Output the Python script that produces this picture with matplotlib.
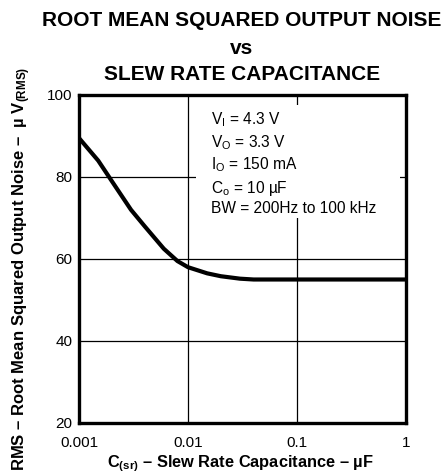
import numpy as np
import matplotlib
matplotlib.use("Agg")
import matplotlib.pyplot as plt
import matplotlib.ticker as ticker

plt.rcParams["font.family"] = ["Liberation Sans", "DejaVu Sans"]
plt.rcParams["mathtext.fontset"] = "custom"
plt.rcParams["mathtext.rm"] = "Liberation Sans"
plt.rcParams["mathtext.it"] = "Liberation Sans"
plt.rcParams["mathtext.bf"] = "Liberation Sans:bold"
plt.rcParams["mathtext.default"] = "regular"

# --- Data ---
c_sr = [0.001, 0.0015, 0.002, 0.003, 0.004, 0.006, 0.008, 0.01, 0.015,
        0.02, 0.03, 0.04, 0.05, 0.1, 0.5, 1.0]
noise = [89.5, 84.0, 79.0, 72.0, 68.0, 62.5, 59.5, 58.0, 56.5,
         55.8, 55.2, 55.0, 55.0, 55.0, 55.0, 55.0]

x_ticks = [0.001, 0.01, 0.1, 1]
x_ticklabels = ["0.001", "0.01", "0.1", "1"]
y_ticks = [20, 40, 60, 80, 100]

conditions = ["$V_I$ = 4.3 V", "$V_O$ = 3.3 V", "$I_O$ = 150 mA",
              "$C_o$ = 10 \u00b5F", "BW = 200Hz to 100 kHz"]

fig = plt.figure(figsize=(4.44, 4.74), dpi=100)
ax = fig.add_axes([79 / 444, 1 - 423 / 474, 327 / 444, 328 / 474])

ax.set_xscale("log")
ax.set_xlim(0.001, 1)
ax.set_ylim(20, 100)

ax.grid(True, which="major", color="black", linewidth=0.9)
ax.set_axisbelow(True)

# white box behind conditions text blanks the grid
box = plt.Rectangle((196 / 444, 1 - 218 / 474), (400 - 196) / 444, (218 - 105) / 474,
                    transform=fig.transFigure, facecolor="white", edgecolor="none", zorder=1)
fig.patches.append(box)
ax.set_zorder(0)
ax.patch.set_visible(False)
fig.patches.append(plt.Rectangle((79 / 444, 1 - 423 / 474), 327 / 444, 328 / 474,
                                 transform=fig.transFigure, facecolor="white",
                                 edgecolor="none", zorder=-1))

ax.plot(c_sr, noise, color="black", linewidth=3.0, solid_capstyle="butt", zorder=3)

ax.set_xticks(x_ticks)
ax.set_xticklabels(x_ticklabels)
ax.xaxis.set_minor_locator(ticker.NullLocator())
ax.set_yticks(y_ticks)
ax.tick_params(length=0, labelsize=11)
ax.tick_params(axis="x", pad=9.5)
ax.tick_params(axis="y", pad=4.5)
for s in ax.spines.values():
    s.set_linewidth(2.4)

fig.text(211 / 444, 1 - 110 / 474, "\n".join(conditions), fontsize=11.2,
         va="top", ha="left", linespacing=1.3, zorder=5)

# titles
fig.text(242 / 444, 1 - 20 / 474, "ROOT MEAN SQUARED OUTPUT NOISE", fontsize=15,
         fontweight="bold", ha="center", va="center")
fig.text(242 / 444, 1 - 49 / 474, "vs", fontsize=15, fontweight="bold",
         ha="center", va="center")
fig.text(242 / 444, 1 - 75 / 474, "SLEW RATE CAPACITANCE", fontsize=15,
         fontweight="bold", ha="center", va="center")

fig.text(240 / 444, 1 - 464 / 474, "$C_{(sr)}$ \u2013 Slew Rate Capacitance \u2013 \u00b5F",
         fontsize=11.8, fontweight="bold", ha="center", va="center")
fig.text(22 / 444, 1 - 269 / 474,
         "RMS \u2013 Root Mean Squared Output Noise \u2013  \u00b5 $V_{(RMS)}$",
         fontsize=12, fontweight="bold", ha="center", va="center", rotation=90)

fig.savefig("out.png", dpi=100)
